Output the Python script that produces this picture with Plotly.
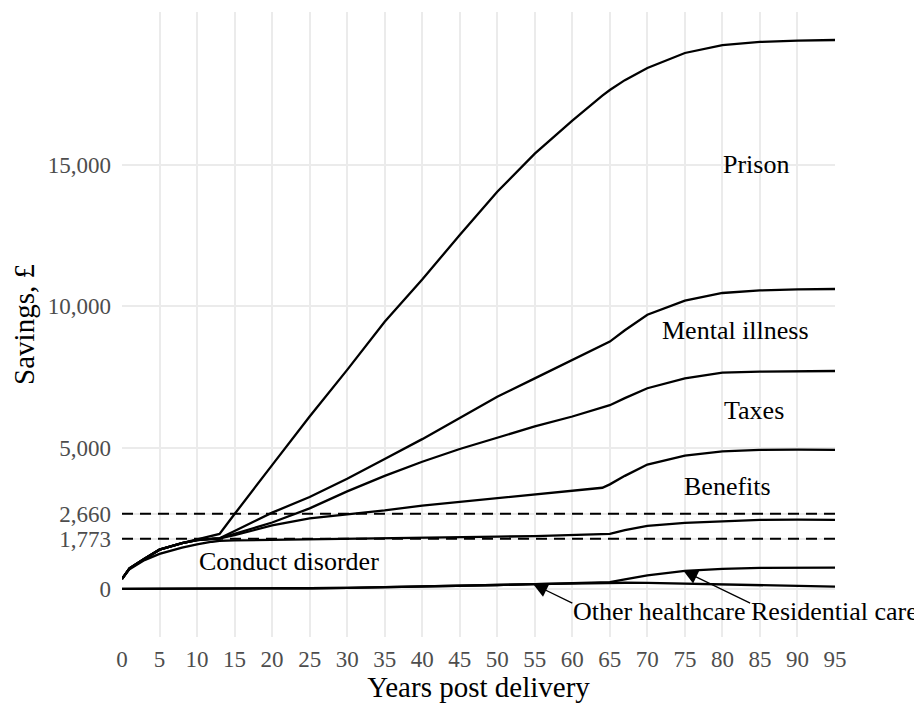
import plotly.graph_objects as go

# ---- data (cumulative savings, £) ----
years = [0, 1, 3, 5, 8, 10, 12, 13, 15, 18, 20, 25, 30, 35, 40, 45, 50, 55, 60, 64, 65, 67, 70, 75, 80, 85, 90, 95]

other_healthcare = [0, 0, 0, 0, 0, 0, 0, 0, 5, 8, 10, 25, 40, 60, 80, 110, 140, 170, 200, 215, 220, 220, 215, 190, 150, 115, 95, 80]
plus_residential = [0, 0, 0, 0, 0, 0, 0, 0, 5, 8, 10, 25, 40, 60, 80, 110, 140, 170, 200, 215, 240, 340, 480, 640, 710, 745, 755, 755]
plus_conduct = [354, 700, 1020, 1240, 1460, 1580, 1670, 1700, 1715, 1725, 1730, 1740, 1760, 1780, 1800, 1830, 1850, 1870, 1900, 1920, 1950, 2080, 2230, 2340, 2400, 2440, 2450, 2440]
plus_benefits = [354, 730, 1070, 1390, 1620, 1730, 1770, 1790, 1900, 2100, 2250, 2500, 2640, 2780, 2950, 3080, 3200, 3330, 3450, 3580, 3700, 4000, 4400, 4720, 4870, 4920, 4930, 4920]
plus_taxes = [354, 730, 1070, 1390, 1620, 1730, 1770, 1790, 1950, 2200, 2350, 2850, 3450, 4000, 4500, 4950, 5350, 5750, 6100, 6400, 6500, 6750, 7100, 7450, 7650, 7690, 7710, 7710]
plus_mental = [354, 730, 1070, 1390, 1620, 1730, 1770, 1790, 2050, 2450, 2700, 3250, 3900, 4600, 5300, 6050, 6800, 7450, 8100, 8600, 8750, 9150, 9700, 10200, 10470, 10560, 10600, 10610]
plus_prison = [354, 730, 1070, 1390, 1620, 1760, 1900, 1945, 2650, 3700, 4380, 6100, 7750, 9450, 10950, 12520, 14050, 15400, 16570, 17450, 17650, 18000, 18430, 18960, 19240, 19350, 19400, 19420]

thresholds = [1773, 2660]
y_ticks = [0, 1773, 2660, 5000, 10000, 15000]
y_tick_labels = ["0", "1,773", "2,660", "5,000", "10,000", "15,000"]
x_ticks = list(range(0, 96, 5))

# band labels: (text, year, value)
band_labels = [
    ("Prison", 84.5, 15000),
    ("Mental illness", 81.7, 9160),
    ("Taxes", 84.2, 6300),
    ("Benefits", 80.7, 3640),
    ("Conduct disorder", 22.3, 955),
]
# arrow labels: (text, text_year, text_value, tail_year, tail_value, head_year, head_value)
arrow_labels = [
    ("Other healthcare", 71.6, -814, 60.2, -530, 54.8, 170),
    ("Residential care", 94.9, -814, 83.9, -530, 74.8, 645),
]

FONT = "Liberation Serif"

fig = go.Figure()
for series in [other_healthcare, plus_residential, plus_conduct, plus_benefits,
               plus_taxes, plus_mental, plus_prison]:
    fig.add_trace(go.Scatter(x=years, y=series, mode="lines",
                             line=dict(color="black", width=2.3),
                             showlegend=False, hoverinfo="skip", cliponaxis=False))

for t in thresholds:
    fig.add_shape(type="line", xref="x", yref="y", x0=years[0], x1=years[-1],
                  y0=t, y1=t, line=dict(color="black", width=2, dash="11px,7px"),
                  layer="above")

for text, x, y in band_labels:
    fig.add_annotation(x=x, y=y, text=text, showarrow=False,
                       font=dict(family=FONT, size=26, color="black"))

for text, tx, ty, ax, ay, hx, hy in arrow_labels:
    fig.add_annotation(x=hx, y=hy, ax=ax, ay=ay, axref="x", ayref="y",
                       text="", showarrow=True, arrowhead=2, arrowsize=2.2,
                       arrowwidth=1.3, arrowcolor="black", standoff=0)
    fig.add_annotation(x=tx, y=ty, text=text, showarrow=False,
                       font=dict(family=FONT, size=26, color="black"))

# the page body has an 8px default margin, so the figure is 8px smaller
fig.update_layout(
    width=914, height=695,
    margin=dict(l=114, r=87, t=4, b=66, autoexpand=False),
    paper_bgcolor="white", plot_bgcolor="white",
    font=dict(family=FONT, size=23, color="#4D4D4D"),
)
fig.update_xaxes(range=[0, 95], tickvals=x_ticks, showgrid=True,
                 gridcolor="#EBEBEB", gridwidth=1.6, zeroline=False,
                 showline=False, ticks="", ticklabelstandoff=6, automargin=False,
                 tickfont=dict(family=FONT, size=23, color="#4D4D4D"),
                 title=dict(text="Years post delivery", standoff=3,
                            font=dict(family=FONT, size=29, color="black")))
fig.update_yaxes(range=[-1700, 20410], tickvals=y_ticks, ticktext=y_tick_labels,
                 showgrid=True, gridcolor="#EBEBEB", gridwidth=1.6,
                 zeroline=False, showline=False, ticks="", ticklabelstandoff=10,
                 automargin=False,
                 tickfont=dict(family=FONT, size=23, color="#4D4D4D"),
                 title=dict(text="Savings, £", standoff=8,
                            font=dict(family=FONT, size=29, color="black")))

fig.write_html("out.html")
